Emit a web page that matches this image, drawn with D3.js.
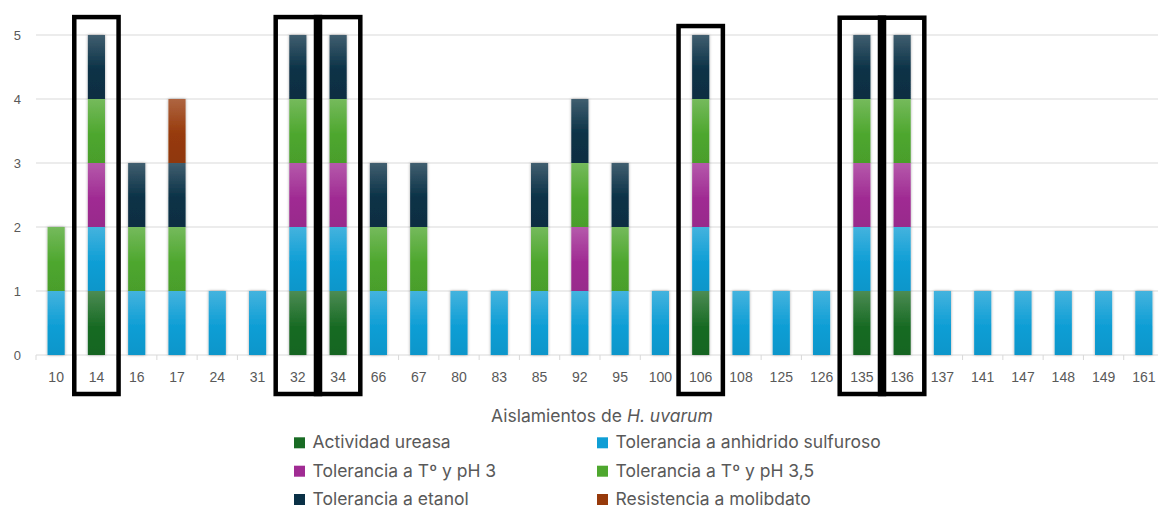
<!DOCTYPE html>
<html>
<head>
<meta charset="utf-8">
<script src="https://cdn.jsdelivr.net/npm/d3@7"></script>
<style>
  html, body { margin: 0; padding: 0; background: #ffffff; }
  svg { display: block; }
  text { font-family: "Liberation Sans", Arial, sans-serif; fill: #595959; }
  text.big { font-family: Inter, "Liberation Sans", sans-serif; }
</style>
</head>
<body>
<svg id="chart" width="1158" height="509"></svg>
<script>
// Isolates of H. uvarum and the traits each one shows (1 = present)
const isolates = ["10","14","16","17","24","31","32","34","66","67","80","83","85","92",
                  "95","100","106","108","125","126","135","136","137","141","147","148","149","161"];

const actividadUreasa      = [0,1,0,0,0,0,1,1,0,0,0,0,0,0,0,0,1,0,0,0,1,1,0,0,0,0,0,0];
const toleranciaSulfuroso  = [1,1,1,1,1,1,1,1,1,1,1,1,1,1,1,1,1,1,1,1,1,1,1,1,1,1,1,1];
const toleranciaPH3        = [0,1,0,0,0,0,1,1,0,0,0,0,0,1,0,0,1,0,0,0,1,1,0,0,0,0,0,0];
const toleranciaPH35       = [1,1,1,1,0,0,1,1,1,1,0,0,1,1,1,0,1,0,0,0,1,1,0,0,0,0,0,0];
const toleranciaEtanol     = [0,1,1,1,0,0,1,1,1,1,0,0,1,1,1,0,1,0,0,0,1,1,0,0,0,0,0,0];
const resistenciaMolibdato = [0,0,0,1,0,0,0,0,0,0,0,0,0,0,0,0,0,0,0,0,0,0,0,0,0,0,0,0];

const seriesNames = ["Actividad ureasa", "Tolerancia a anhidrido sulfuroso",
                     "Tolerancia a Tº y pH 3", "Tolerancia a Tº y pH 3,5",
                     "Tolerancia a etanol", "Resistencia a molibdato"];
const seriesValues = [actividadUreasa, toleranciaSulfuroso, toleranciaPH3,
                      toleranciaPH35, toleranciaEtanol, resistenciaMolibdato];
const seriesColors = ["#196b24", "#0f9ed5", "#a02b93", "#4ea72e", "#0a3146", "#973a0b"];

const yTicks = [0, 1, 2, 3, 4, 5];

// Isolates framed with a black box, with the top of each frame in value units
const framedIsolates = ["14", "32", "34", "106", "135", "136"];
const frameTops      = [5.28, 5.28, 5.28, 5.14, 5.27, 5.27];

// ---- build the stacked table ----
const keys = seriesNames;
const table = isolates.map((id, i) => {
  const row = { id };
  keys.forEach((k, s) => row[k] = seriesValues[s][i]);
  return row;
});
const stacked = d3.stack().keys(keys)(table);

const svg = d3.select("#chart");
const W = 1158;
const plot = { left: 36, right: 1164, top: 35, bottom: 355 };

const x = d3.scaleBand().domain(isolates).range([plot.left, plot.right]).paddingInner(0.575).paddingOuter(0.2875);
const xCell = d3.scaleBand().domain(isolates).range([plot.left, plot.right]);
const y = d3.scaleLinear().domain([0, 5]).range([plot.bottom, plot.top]);
const color = d3.scaleOrdinal().domain(keys).range(seriesColors);

// ---- defs: soft shadow and per-series vertical gradients ----
const defs = svg.append("defs");
const shadow = defs.append("filter").attr("id", "barShadow")
  .attr("x", "-60%").attr("y", "-10%").attr("width", "220%").attr("height", "120%");
shadow.append("feDropShadow").attr("dx", 0).attr("dy", 0)
  .attr("stdDeviation", 1.8).attr("flood-color", "#000").attr("flood-opacity", 0.35);

keys.forEach((k, s) => {
  const base = d3.color(seriesColors[s]);
  const g = defs.append("linearGradient").attr("id", "grad" + s)
    .attr("x1", 0).attr("y1", 0).attr("x2", 0).attr("y2", 1);
  g.append("stop").attr("offset", "0%").attr("stop-color", d3.interpolateRgb(base, "#ffffff")(0.22));
  g.append("stop").attr("offset", "55%").attr("stop-color", base.formatHex());
  g.append("stop").attr("offset", "100%").attr("stop-color", base.darker(0.15).formatHex());
});

// ---- gridlines ----
svg.append("g").selectAll("line").data(yTicks.filter(t => t > 0)).join("line")
  .attr("x1", plot.left).attr("x2", W)
  .attr("y1", d => y(d)).attr("y2", d => y(d))
  .attr("stroke", "#d9d9d9").attr("stroke-width", 1);

// ---- x axis line and ticks at category boundaries ----
const xAxisG = svg.append("g").attr("transform", `translate(0,${plot.bottom})`);
xAxisG.append("line").attr("x1", plot.left).attr("x2", W).attr("y1", 0).attr("y2", 0)
  .attr("stroke", "#d9d9d9");
xAxisG.selectAll("line.tick").data(isolates).join("line").attr("class", "tick")
  .attr("x1", d => xCell(d)).attr("x2", d => xCell(d)).attr("y1", 0).attr("y2", 5)
  .attr("stroke", "#d9d9d9");
xAxisG.selectAll("text").data(isolates).join("text")
  .attr("x", d => xCell(d) + xCell.bandwidth() / 2).attr("y", 27)
  .attr("text-anchor", "middle").attr("font-size", 14).text(d => d);

// ---- y axis labels ----
svg.append("g").selectAll("text").data(yTicks).join("text")
  .attr("x", 21).attr("y", d => y(d)).attr("dy", "0.35em")
  .attr("text-anchor", "end").attr("font-size", 13).text(d => d);

// ---- stacked bars ----
const layers = svg.append("g").attr("filter", "url(#barShadow)");
layers.selectAll("g").data(stacked).join("g")
  .attr("fill", (d, s) => `url(#grad${s})`)
  .selectAll("rect").data(d => d.filter(p => p[1] - p[0] > 0)).join("rect")
  .attr("x", p => x(p.data.id))
  .attr("width", x.bandwidth())
  .attr("y", p => y(p[1]))
  .attr("height", p => y(p[0]) - y(p[1]));

// ---- frames around selected isolates ----
svg.append("g").selectAll("rect").data(framedIsolates).join("rect")
  .attr("x", d => xCell(d) + xCell.bandwidth() / 2 - xCell.bandwidth() * 0.55)
  .attr("width", xCell.bandwidth() * 1.1)
  .attr("y", (d, i) => y(frameTops[i]))
  .attr("height", (d, i) => plot.bottom + 39 - y(frameTops[i]))
  .attr("fill", "none").attr("stroke", "#000").attr("stroke-width", 4.5);

// ---- axis title ----
const title = svg.append("text").attr("class", "big").attr("x", 491).attr("y", 421.5).attr("font-size", 17.5);
title.append("tspan").text("Aislamientos de ");
title.append("tspan").attr("font-style", "italic").text("H. uvarum");

// ---- legend (two columns, three rows) ----
const legendCols = [294, 597];
const legendRows = [448.3, 476.7, 505];
const legend = svg.append("g").selectAll("g").data(keys).join("g")
  .attr("transform", (d, i) => `translate(${legendCols[i % 2]},${legendRows[Math.floor(i / 2)]})`);
legend.append("rect").attr("x", 0).attr("y", -11).attr("width", 11).attr("height", 11)
  .attr("fill", d => color(d));
legend.append("text").attr("class", "big").attr("x", 18.5).attr("y", 0).attr("font-size", 17.5).text(d => d);
</script>
</body>
</html>
